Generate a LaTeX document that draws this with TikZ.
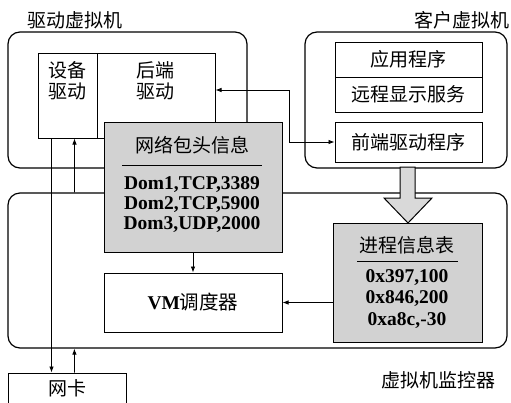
\documentclass[tikz,border=0pt]{standalone}
\usepackage{fontspec}
\setmainfont{Liberation Serif}
\newfontfamily\cjk{Noto Sans CJK SC}
\usetikzlibrary{arrows.meta}

\begin{document}
\begin{tikzpicture}[x=1pt,y=-1pt,
    every node/.style={font=\fontsize{19.5}{20}\selectfont\bfseries, inner sep=0pt},
    zh/.style={font=\fontsize{19}{21}\selectfont\cjk},
    vmbox/.style={draw, line width=1.2pt, rounded corners=12pt},
    box/.style={draw, line width=1pt},
    graybox/.style={draw, line width=1pt, fill=gray!35},
    arr/.style={-{Latex[length=6pt,width=4.5pt]}, line width=0.8pt},
    biarr/.style={{Latex[length=6pt,width=4.5pt]}-{Latex[length=6pt,width=4.5pt]}, line width=0.8pt}]
        \useasboundingbox (0,0) rectangle (511,402);

        % Driver VM
        \node[vmbox, minimum width=239pt, minimum height=136pt] (drvvm) at (127.5,100) {};
        \node[zh] (drvlabel) at (75,20) {驱动虚拟机};
        \node[box, minimum width=59pt, minimum height=85pt] (devdrv) at (67.5,95.5) {};
        \node[zh, align=center] (devtext) at (67.5,81) {设备\\驱动};
        \node[box, minimum width=118pt, minimum height=85pt] (backdrv) at (156,95.5) {};
        \node[zh, align=center] (backtext) at (155,81) {后端\\驱动};

        % Guest VM
        \node[vmbox, minimum width=202pt, minimum height=136pt] (guestvm) at (406,100) {};
        \node[zh] (guestlabel) at (462,20) {客户虚拟机};
        \node[box, zh, minimum width=147pt, minimum height=35pt] (app) at (408.5,59.5) {应用程序};
        \node[box, zh, minimum width=147pt, minimum height=35pt] (rds) at (408.5,94.5) {远程显示服务};
        \node[box, zh, minimum width=147pt, minimum height=40pt] (front) at (408.5,142) {前端驱动程序};

        % Hypervisor
        \node[vmbox, minimum width=499pt, minimum height=155pt] (hyp) at (257.5,270.5) {};
        \node[zh] (hyplabel) at (438,380) {虚拟机监控器};

        % Packet header table
        \node[graybox, minimum width=178pt, minimum height=130pt] (hdr) at (193,187) {};
        \node[zh] (hdrtitle) at (192,145) {网络包头信息};
        \draw[line width=0.8pt] (122,165) -- (262,165);
        \node[align=center] (hdrlist) at (192,205) {Dom1,TCP,3389\\Dom2,TCP,5900\\Dom3,UDP,2000};

        % Scheduler
        \node[box, minimum width=178pt, minimum height=59pt] (vms) at (193,302.5) {VM{\cjk\mdseries 调度器}};

        % Process table
        \node[graybox, minimum width=149pt, minimum height=119pt] (proc) at (407.5,282.5) {};
        \node[zh] (proctitle) at (407,245) {进程信息表};
        \draw[line width=0.8pt] (357,261) -- (458,261);
        \node[align=center, font=\fontsize{19.5}{21.5}\selectfont\bfseries] (proclist) at (407,299) {0x397,100\\0x846,200\\0xa8c,-30};

        % NIC
        \node[box, zh, minimum width=118pt, minimum height=31pt] (nic) at (67,388.5) {网卡};

        % Fat arrow
        \draw[line width=1pt, fill=gray!30, line join=miter] (400,167) -- (415,167) -- (415,198) -- (432,198)
            -- (408,223) -- (384,198) -- (400,198) -- cycle;

        \draw[arr] (hdr.south) -- (vms.north);
        \draw[arr] (proc.west |- vms.east) -- (vms.east);
        \draw[biarr] ([yshift=5.5pt]backdrv.east) -- ++(74,0) |- (front.west);
        \draw[arr] ([xshift=14pt]devdrv.south west) -- ([xshift=44pt]nic.north west);
        \draw[arr] ([xshift=67pt]hyp.north west) -- ([xshift=37pt]devdrv.south west);
        \draw[arr] ([xshift=67pt]nic.north west) -- ([xshift=67pt]hyp.south west);
    \end{tikzpicture}
\end{document}
